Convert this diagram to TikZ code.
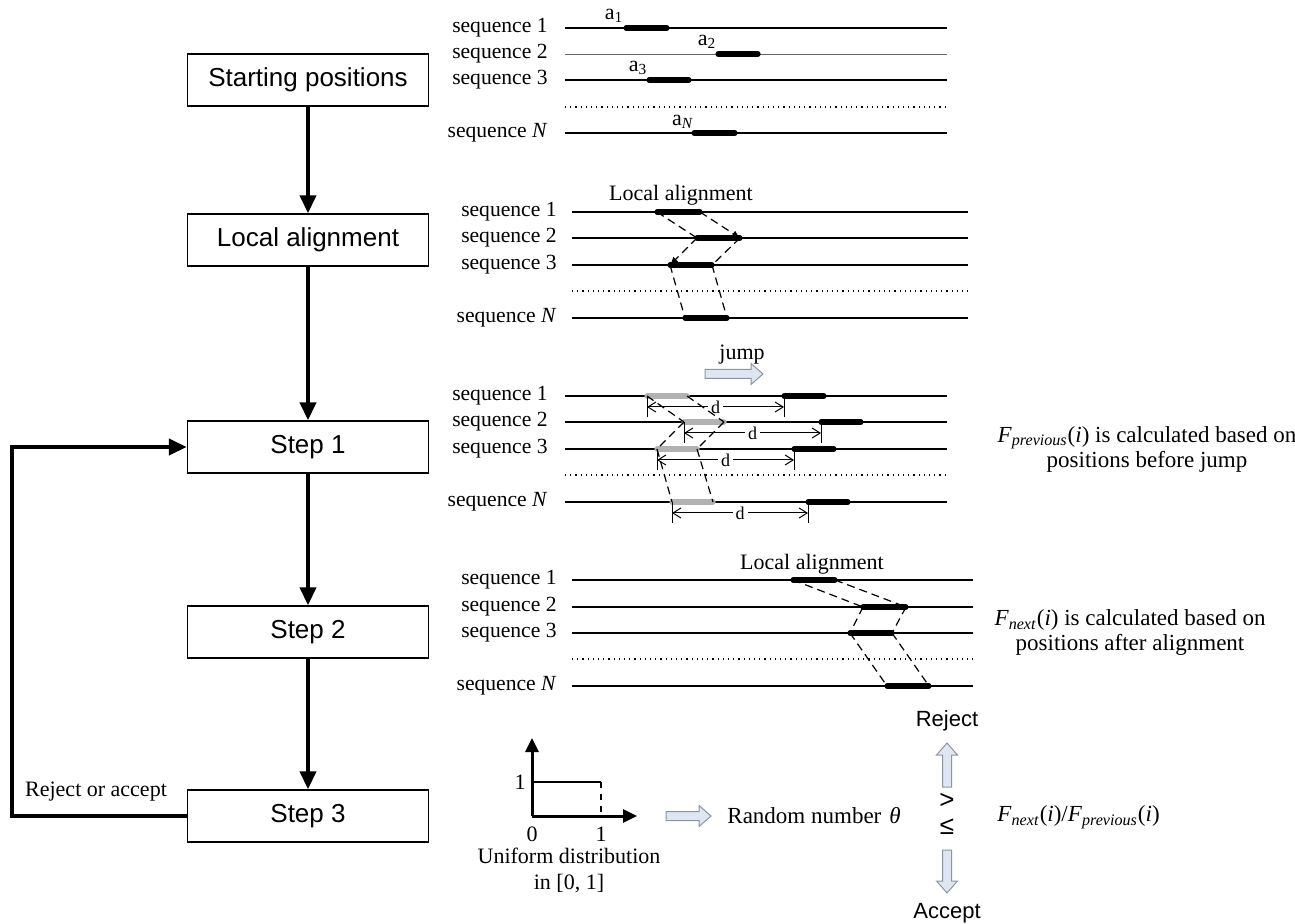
\documentclass[tikz,border=0pt]{standalone}
\usepackage{fontspec}
\setmainfont{Liberation Serif}
\setsansfont{Liberation Sans}
\usetikzlibrary{arrows.meta}

\definecolor{arrowfill}{RGB}{221,230,242}
\definecolor{arrowedge}{RGB}{140,148,160}
\definecolor{ghost}{RGB}{178,178,178}

\newcommand{\Fsub}[1]{\textit{F}\textsubscript{\textit{#1}}(\textit{i})}
\newcommand{\seqN}{sequence \textit{N}}

\begin{document}
\begin{tikzpicture}[
    x=0.5pt, y=-0.5pt,
    stage/.style={draw, line width=0.7pt, minimum width=120.5pt, minimum height=26pt, inner sep=0pt, font=\sffamily\fontsize{13}{15}\selectfont},
    flow/.style={-{Triangle[length=9pt,width=8pt]}, line width=2pt},
    seqline/.style={line width=0.7pt},
    faintline/.style={line width=0.4pt, black!60},
    dots/.style={dotted, line width=0.6pt},
    motif/.style={line width=2.6pt, line cap=round},
    oldmotif/.style={motif, ghost},
    link/.style={line width=0.6pt, dash pattern=on 4pt off 2.5pt},
    linktip/.style={link, -{Latex[length=4pt,width=3.5pt]}},
    seqlabel/.style={anchor=east, inner sep=0pt, font=\fontsize{10.8}{13}\selectfont},
    txt/.style={inner sep=0pt, font=\fontsize{11}{13}\selectfont},
    dim/.style={{Straight Barb[length=4pt,width=5pt]}-{Straight Barb[length=4pt,width=5pt]}, line width=0.5pt},
    dlabel/.style={fill=white, inner sep=1.5pt, font=\fontsize{9}{10}\selectfont},
    axis/.style={-{Triangle[length=7pt,width=6.5pt]}, line width=1.5pt},
    fatpath/.style={draw=arrowedge, fill=arrowfill, line width=0.5pt, line join=miter},
    pics/fatarrow/.style={code={
      \draw[fatpath] (0,-4.5) -- (#1-12,-4.5) -- (#1-12,-10.5) -- (#1,0) -- (#1-12,10.5) -- (#1-12,4.5) -- (0,4.5) -- cycle;}},
    note/.style={align=center, inner sep=0pt, font=\fontsize{11.5}{12.5}\selectfont},
    verdict/.style={inner sep=0pt, font=\sffamily\fontsize{11}{13}\selectfont},
    relation/.style={inner sep=0pt, font=\sffamily\fontsize{13}{13}\selectfont}
  ]
  \useasboundingbox (0,0) rectangle (1295,924);

  % Flow chart
  \node[stage] (start) at (308,80) {Starting positions};
  \node[stage] (align) at (308,240) {Local alignment};
  \node[stage] (step1) at (308,447) {Step 1};
  \node[stage] (step2) at (308,632) {Step 2};
  \node[stage] (step3) at (308,816) {Step 3};

  \draw[flow] (start) -- (align);
  \draw[flow] (align) -- (step1);
  \draw[flow] (step1) -- (step2);
  \draw[flow] (step2) -- (step3);
  \coordinate (back) at (12,816);
  \draw[flow] (step3.west) -- (back) |- (step1.west);
  \node[txt] (loopnote) at (96,792) {Reject or accept};

  % Starting positions
  \foreach \y/\t/\s in {28/sequence 1/seqline, 54/sequence 2/faintline, 80/sequence 3/seqline, 133/\seqN/seqline} {
    \node[seqlabel] (init\y) at (548,\y) {\t};
    \draw[\s] (565,\y) -- (947,\y);
  }
  \draw[dots] (565,107) -- (947,107);
  \draw[motif] (626,28) -- (667,28);
  \draw[motif] (718,54) -- (758,54);
  \draw[motif] (649,80) -- (689,80);
  \draw[motif] (694,133) -- (735,133);
  \node[txt] (a1) at (614,16) {a\textsubscript{1}};
  \node[txt] (a2) at (707,42) {a\textsubscript{2}};
  \node[txt] (a3) at (638,68) {a\textsubscript{3}};
  \node[txt] (aN) at (683,122) {a\textsubscript{\textit{N}}};

  % Local alignment
  \foreach \y/\t in {212/sequence 1, 238/sequence 2, 265/sequence 3, 318/\seqN} {
    \node[seqlabel] (loc\y) at (557,\y) {\t};
    \draw[seqline] (572,\y) -- (968,\y);
  }
  \draw[dots] (572,291) -- (968,291);
  \node[txt] (loctitle) at (681,195) {Local alignment};
  \coordinate (loc1a) at (657,212); \coordinate (loc1b) at (700,212);
  \coordinate (loc2a) at (697,238); \coordinate (loc2b) at (740,238);
  \coordinate (loc3a) at (670,265); \coordinate (loc3b) at (712,265);
  \coordinate (locNa) at (685,318); \coordinate (locNb) at (727,318);
  \foreach \k in {1,2,3,N}
    \draw[motif] (loc\k a) -- (loc\k b);
  \draw[link] (loc1a) -- (loc2a);
  \draw[linktip] (loc1b) -- (loc2b);
  \draw[linktip] (loc2a) -- (loc3a);
  \draw[link] (loc2b) -- (loc3b);
  \draw[link] (loc3a) -- (locNa);
  \draw[link] (loc3b) -- (locNb);

  % Step 1: jump
  \foreach \y/\t in {396/sequence 1, 422/sequence 2, 449/sequence 3, 502/\seqN} {
    \node[seqlabel] (jmp\y) at (548,\y) {\t};
    \draw[seqline] (565,\y) -- (947,\y);
  }
  \draw[dots] (565,475) -- (947,475);
  \node[txt] (jumptitle) at (742,355) {jump};
  \pic (jumparrow) at (705,374) {fatarrow=58};
  \coordinate (old1a) at (647,396); \coordinate (old1b) at (687,396);
  \coordinate (old2a) at (684,422); \coordinate (old2b) at (724,422);
  \coordinate (old3a) at (657,449); \coordinate (old3b) at (697,449);
  \coordinate (oldNa) at (672,502); \coordinate (oldNb) at (713,502);
  \coordinate (new1a) at (784,396); \coordinate (new1b) at (824,396);
  \coordinate (new2a) at (821,422); \coordinate (new2b) at (861,422);
  \coordinate (new3a) at (794,449); \coordinate (new3b) at (834,449);
  \coordinate (newNa) at (808,502); \coordinate (newNb) at (848,502);
  \foreach \k in {1,2,3,N} {
    \draw[oldmotif] (old\k a) -- (old\k b);
    \draw[motif] (new\k a) -- (new\k b);
    \draw[line width=0.5pt] (old\k a) -- +(0,21) (new\k a) -- +(0,21);
    \draw[dim] ([yshift=-5.5pt]old\k a) -- node[dlabel] {d} ([yshift=-5.5pt]new\k a);
  }
  \draw[link] (old1a) -- (old2a);
  \draw[link] (old1b) -- (old2b);
  \draw[link] (old2a) -- (old3a);
  \draw[link] (old2b) -- (old3b);
  \draw[link] (old3a) -- (oldNa);
  \draw[link] (old3b) -- (oldNb);
  \node[note] (prevnote) at (1147,449) {\Fsub{previous} is calculated based on\\positions before jump};

  % Step 2: alignment after the jump
  \foreach \y/\t in {580/sequence 1, 607/sequence 2, 633/sequence 3, 686/\seqN} {
    \node[seqlabel] (fin\y) at (557,\y) {\t};
    \draw[seqline] (572,\y) -- (973,\y);
  }
  \draw[dots] (572,659) -- (973,659);
  \node[txt] (fintitle) at (812,564) {Local alignment};
  \coordinate (fin1a) at (793,580); \coordinate (fin1b) at (835,580);
  \coordinate (fin2a) at (863,607); \coordinate (fin2b) at (906,607);
  \coordinate (fin3a) at (850,633); \coordinate (fin3b) at (892,633);
  \coordinate (finNa) at (887,686); \coordinate (finNb) at (929,686);
  \foreach \k in {1,2,3,N}
    \draw[motif] (fin\k a) -- (fin\k b);
  \draw[link] (fin1a) -- (fin2a);
  \draw[link] (fin1b) -- (fin2b);
  \draw[link] (fin2a) -- (fin3a);
  \draw[link] (fin2b) -- (fin3b);
  \draw[link] (fin3a) -- (finNa);
  \draw[link] (fin3b) -- (finNb);
  \node[note] (nextnote) at (1130,633) {\Fsub{next} is calculated based on\\positions after alignment};

  % Step 3: accept or reject
  \coordinate (orig) at (532,816);
  \coordinate (ytop) at (532,738);
  \coordinate (xend) at (637,816);
  \coordinate (u0) at (532,782);
  \coordinate (u1) at (601,782);
  \coordinate (u2) at (601,816);
  \draw[axis] (orig) -- (ytop);
  \draw[axis] (orig) -- (xend);
  \draw[line width=1.2pt] (u0) -- (u1);
  \draw[dashed, line width=1pt] (u1) -- (u2);
  \node[txt] (yone) at (520,782) {1};
  \node[txt] (xzero) at (532,834) {0};
  \node[txt] (xone) at (601,834) {1};
  \node[txt, align=center] (unif) at (569,870) {Uniform distribution\\in [0, 1]};

  \pic (toright) at (666,816) {fatarrow=45};
  \node[txt, anchor=west, font=\fontsize{11.5}{13}\selectfont] (theta) at (727,816) {Random number\hspace{4pt}\textit{θ}};
  \node[relation] (gt) at (947,801) {>};
  \node[relation] (le) at (947,827) {≤};
  \pic[rotate=90] (toreject) at (947,787) {fatarrow=44};
  \pic[rotate=-90] (toaccept) at (947,850) {fatarrow=43};
  \node[verdict] (reject) at (947,721) {Reject};
  \node[verdict] (accept) at (947,913) {Accept};
  \node[txt, anchor=west, font=\fontsize{11.5}{13}\selectfont] (ratio) at (997,817) {\Fsub{next}/\Fsub{previous}};
\end{tikzpicture}
\end{document}
